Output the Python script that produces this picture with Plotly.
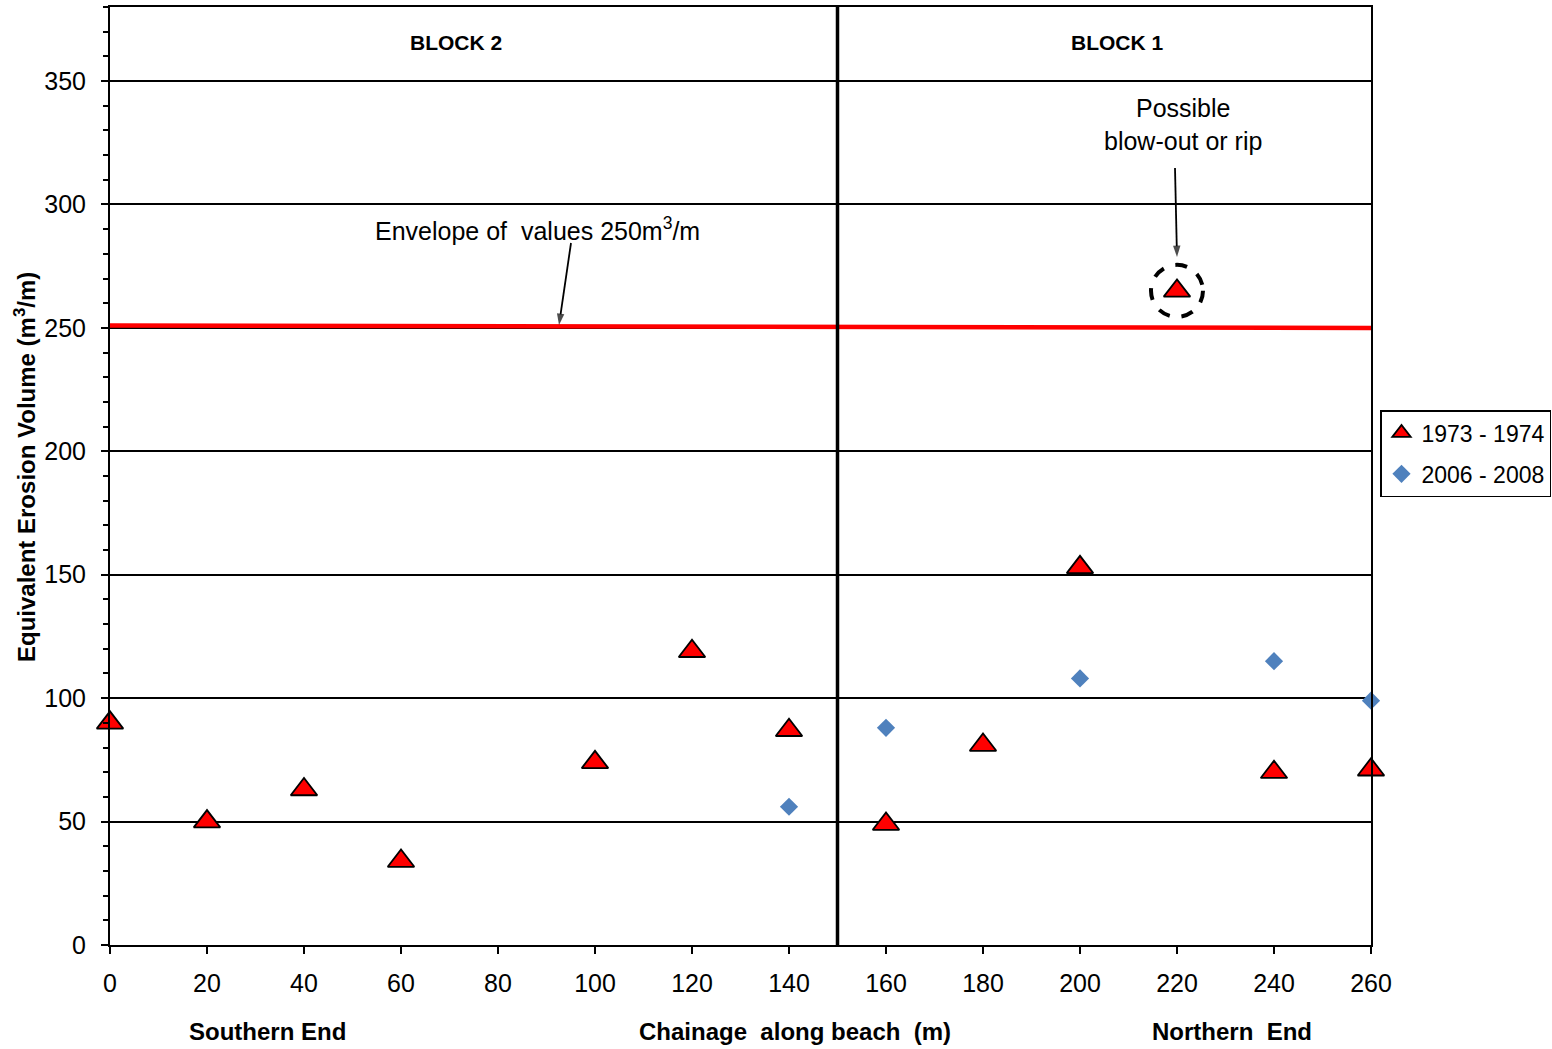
import plotly.graph_objects as go

# Data
chainage_7374 = [0, 20, 40, 60, 100, 120, 140, 160, 180, 200, 220, 240, 260]
erosion_7374 = [90, 50, 63, 34, 74, 119, 87, 49, 81, 153, 265, 70, 71]
chainage_0608 = [140, 160, 200, 240, 260]
erosion_0608 = [56, 88, 108, 115, 99]
envelope_x = [0, 260]
envelope_y = [251, 250]
block_divider = 150
x_ticks = list(range(0, 261, 20))
y_ticks = list(range(0, 351, 50))

FONT = "Arial, Liberation Sans, sans-serif"
L, R, T, B = 110, 181, 7, 104
W, H = 1552, 1049
PW, PH = W - L - R, H - T - B


def px_to_x(px):
    return (px - L) / PW * 260


def py_to_y(py):
    return (H - B - py) / PH * 380


fig = go.Figure()

fig.add_trace(go.Scatter(
    x=envelope_x, y=envelope_y, mode="lines",
    line=dict(color="#FF0000", width=4.5), showlegend=False, hoverinfo="skip"))

fig.add_trace(go.Scatter(
    x=chainage_7374, y=erosion_7374, mode="markers", name="1973 - 1974",
    legendgroup="a",
    marker=dict(symbol="triangle-up", size=23, color="#FF0000",
                line=dict(color="black", width=1.8)),
    cliponaxis=False))

fig.add_trace(go.Scatter(
    x=chainage_0608, y=erosion_0608, mode="markers", name="2006 - 2008",
    legendgroup="b",
    marker=dict(symbol="diamond", size=14, color="#4F81BD",
                line=dict(width=0)),
    cliponaxis=False))

# callout arrows (tail -> head), drawn as short lines with an arrow tip
for tail, head in [((571, 243), (559, 325)), ((1175, 168), (1177, 257))]:
    fig.add_trace(go.Scatter(
        x=[px_to_x(tail[0]), px_to_x(head[0])],
        y=[py_to_y(tail[1]), py_to_y(head[1])],
        mode="lines+markers", showlegend=False, hoverinfo="skip",
        line=dict(color="black", width=1.8),
        marker=dict(symbol="arrow", size=[0, 12], angleref="previous",
                    color="black", line=dict(width=0))))

# divider between blocks
fig.add_shape(type="line", x0=block_divider, x1=block_divider, y0=0, y1=380,
              xref="x", yref="y", line=dict(color="black", width=3.5))

# dashed circle around outlier
fig.add_shape(type="circle", xref="x", yref="y", xsizemode="pixel", ysizemode="pixel",
              xanchor=220, yanchor=265, x0=-26, x1=26, y0=-26, y1=26,
              line=dict(color="black", width=4, dash="dash"))

fig.add_annotation(x=px_to_x(456), y=py_to_y(42), xref="x", yref="y",
                   text="<b>BLOCK 2</b>", showarrow=False,
                   font=dict(size=21, family=FONT, color="black"))
fig.add_annotation(x=px_to_x(1117), y=py_to_y(42), xref="x", yref="y",
                   text="<b>BLOCK 1</b>", showarrow=False,
                   font=dict(size=21, family=FONT, color="black"))

fig.add_annotation(x=px_to_x(537), y=py_to_y(229), xref="x", yref="y",
                   text="Envelope of  values 250m<sup>3</sup>/m", showarrow=False,
                   font=dict(size=25, family=FONT, color="black"))

fig.add_annotation(x=px_to_x(1183), y=py_to_y(124), xref="x", yref="y",
                   text="Possible<br>blow-out or rip", showarrow=False,
                   font=dict(size=25, family=FONT, color="black"))

# x-axis bottom labels
for txt, px in [("Southern End", 267), ("Chainage  along beach  (m)", 795), ("Northern  End", 1232)]:
    fig.add_annotation(x=(px - L) / PW, y=(H - B - 1031) / PH, xref="paper", yref="paper",
                       text="<b>" + txt + "</b>", showarrow=False,
                       xanchor="center", yanchor="middle",
                       font=dict(size=24, family=FONT, color="black"))

# y-axis title
fig.add_annotation(x=(25 - L) / PW, y=(H - B - 467) / PH, xref="paper", yref="paper",
                   text="<b>Equivalent Erosion Volume (m<sup>3</sup>/m)</b>",
                   showarrow=False, textangle=-90, xanchor="center", yanchor="middle",
                   font=dict(size=24, family=FONT, color="black"))

fig.update_layout(
    width=W, height=H,
    margin=dict(l=L, r=R, t=T, b=B, autoexpand=False),
    paper_bgcolor="white", plot_bgcolor="white",
    font=dict(family=FONT, size=25, color="black"),
    showlegend=True,
    legend=dict(x=(1380 - L) / PW, y=(H - B - 410) / PH, xanchor="left", yanchor="top",
                bordercolor="black", borderwidth=1.5, bgcolor="white",
                font=dict(size=23, family=FONT), itemwidth=30,
                tracegroupgap=8),
    xaxis=dict(range=[0, 260], tickvals=x_ticks, showgrid=False, zeroline=False,
               showline=True, linecolor="black", linewidth=2, mirror=True,
               ticks="outside", ticklen=7, tickwidth=1.5, tickcolor="black",
               tickfont=dict(size=25), ticklabelstandoff=8),
    yaxis=dict(range=[0, 380], tickvals=y_ticks, showgrid=True, gridcolor="black",
               gridwidth=1.5, zeroline=False,
               showline=True, linecolor="black", linewidth=2, mirror=True,
               ticks="outside", ticklen=7, tickwidth=1.5, tickcolor="black",
               minor=dict(dtick=10, ticks="outside", ticklen=5, tickwidth=1.5,
                          tickcolor="black", showgrid=False),
               tickfont=dict(size=25), ticklabelstandoff=10),
)

fig.write_html("out.html")
